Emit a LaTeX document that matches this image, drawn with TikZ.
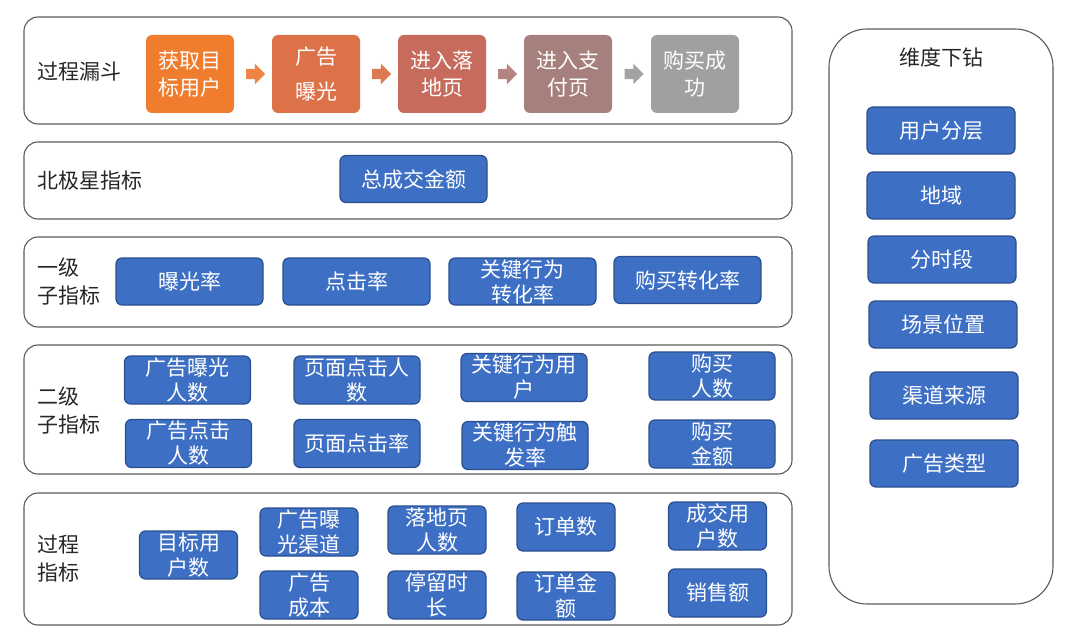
\documentclass[tikz,border=0pt]{standalone}
\usepackage{fontspec}
\setmainfont{Noto Sans CJK SC}
\usetikzlibrary{calc,shapes.arrows}
\definecolor{frameline}{HTML}{5A5A5A}
\definecolor{metricfill}{HTML}{3D6FC4}
\definecolor{metricline}{HTML}{2B4F8E}
\definecolor{stepA}{HTML}{F07D2E}
\definecolor{stepB}{HTML}{DD7248}
\definecolor{stepC}{HTML}{C76C5C}
\definecolor{stepD}{HTML}{A6807C}
\definecolor{stepE}{HTML}{A0A0A0}
\definecolor{arrowA}{HTML}{EE8545}
\definecolor{arrowB}{HTML}{DE7850}
\definecolor{arrowC}{HTML}{B48580}
\definecolor{arrowD}{HTML}{A3A3A3}

\begin{document}
\begin{tikzpicture}[
  x=1pt,y=-1pt,
  panel/.style={draw=frameline,line width=1.1pt,rounded corners=14pt},
  rowlabel/.style={anchor=west,align=left,inner sep=0pt,text=black!85,
    font=\fontsize{21}{28}\selectfont},
  metric/.style={draw=metricline,fill=metricfill,line width=1.2pt,
    rounded corners=6pt,text=white,align=center,inner sep=0pt,
    font=\fontsize{21}{25}\selectfont},
  wide/.style={metric,minimum width=147pt,minimum height=47pt},
  mid/.style={metric,minimum width=126pt,minimum height=48pt},
  small/.style={metric,minimum width=98pt,minimum height=48pt},
  funnel/.style={rounded corners=6pt,text=white,align=center,inner sep=0pt,
    minimum width=88pt,minimum height=78pt,font=\fontsize{21}{27}\selectfont},
  flow/.style={single arrow,draw=none,inner xsep=0pt,inner ysep=5pt,
    single arrow head extend=5pt,minimum height=19pt}
]
  \useasboundingbox (0,0) rectangle (1080,634);

  % panels
  \draw[panel] (24,17) rectangle (792,124);
  \draw[panel] (24,142) rectangle (792,219);
  \draw[panel] (24,237) rectangle (792,327);
  \draw[panel] (24,345) rectangle (792,474);
  \draw[panel] (24,493) rectangle (792,625);
  \draw[panel,rounded corners=38pt] (829,29) rectangle (1053,604);

  % funnel
  \node[rowlabel] (lfunnel) at (37,72) {过程漏斗};
  \node[funnel,fill=stepA] (f1) at (190,74) {获取目\\标用户};
  \node[funnel,fill=stepB] (f2) at (316,74) {广告\\[8pt]曝光};
  \node[funnel,fill=stepC] (f3) at (442,74) {进入落\\地页};
  \node[funnel,fill=stepD] (f4) at (568,74) {进入支\\付页};
  \node[funnel,fill=stepE] (f5) at (695,74) {购买成\\功};
  \node[flow,fill=arrowA] (a1) at ($(f1.east)!0.5!(f2.west)$) {};
  \node[flow,fill=arrowB] (a2) at ($(f2.east)!0.5!(f3.west)$) {};
  \node[flow,fill=arrowC] (a3) at ($(f3.east)!0.5!(f4.west)$) {};
  \node[flow,fill=arrowD] (a4) at ($(f4.east)!0.5!(f5.west)$) {};

  % north star
  \node[rowlabel] (lstar) at (37,181) {北极星指标};
  \node[wide] (gmv) at (413.5,179) {总成交金额};

  % level one
  \node[rowlabel] (lone) at (37,282) {一级\\子指标};
  \node[wide] (expr) at (189.5,281.5) {曝光率};
  \node[wide] (ctr) at (356.5,281.5) {点击率};
  \node[wide] (kcr) at (522.5,281.5) {关键行为\\转化率};
  \node[wide] (pcr) at (687.5,280) {购买转化率};

  % level two
  \node[rowlabel] (ltwo) at (37,411) {二级\\子指标};
  \node[mid] (adexp) at (187.5,380) {广告曝光\\人数};
  \node[mid] (pgclk) at (357,380) {页面点击人\\数};
  \node[mid] (keyusr) at (524,377.5) {关键行为用\\户};
  \node[mid] (buyusr) at (712,376) {购买\\人数};
  \node[mid] (adclk) at (188.5,443.5) {广告点击\\人数};
  \node[mid] (pgrate) at (357,443.5) {页面点击率};
  \node[mid] (keyrate) at (525,445.5) {关键行为触\\发率};
  \node[mid] (buyamt) at (712,444) {购买\\金额};

  % process
  \node[rowlabel] (lproc) at (37,559) {过程\\指标};
  \node[small] (target) at (188.5,555) {目标用\\户数};
  \node[small] (channel) at (309,532) {广告曝\\光渠道};
  \node[small] (adcost) at (309,595) {广告\\成本};
  \node[small] (landing) at (437,530) {落地页\\人数};
  \node[small] (stay) at (437,595) {停留时\\长};
  \node[small] (orders) at (566,527) {订单数};
  \node[small] (ordamt) at (566,596) {订单金\\额};
  \node[small] (buyers) at (717.5,526) {成交用\\户数};
  \node[small] (sales) at (717.5,593) {销售额};

  % drill-down
  \node[font=\fontsize{21}{25}\selectfont,text=black!85] (ldim) at (941,57) {维度下钻};
  \foreach \i/\x/\y/\txt in {1/941/130.5/用户分层,2/941/195.5/地域,3/942/259.5/分时段,
      4/943/324.5/场景位置,5/944/395.5/渠道来源,6/944/463.5/广告类型}
    \node[wide,minimum width=148pt] (d\i) at (\x,\y) {\txt};
\end{tikzpicture}
\end{document}
